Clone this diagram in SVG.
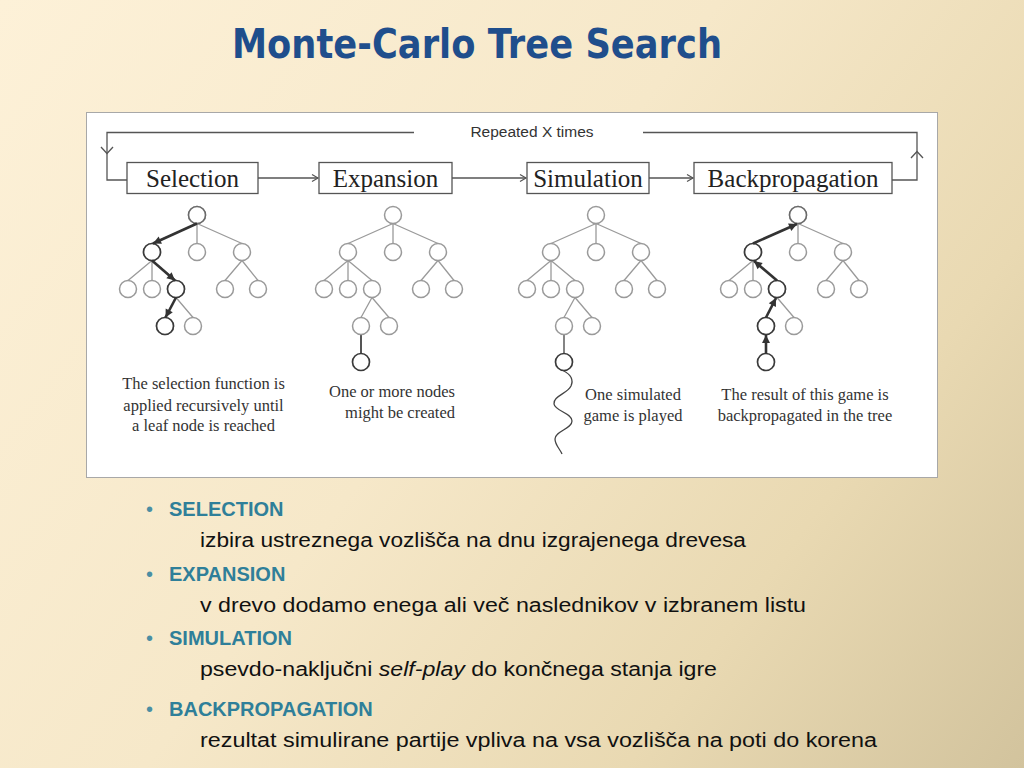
<svg xmlns="http://www.w3.org/2000/svg" width="1024" height="768" viewBox="0 0 1024 768">
<defs>
<linearGradient id="bg" gradientUnits="userSpaceOnUse" x1="0" y1="0" x2="1024" y2="768">
<stop offset="0" stop-color="#fdf1d8"/>
<stop offset="0.45" stop-color="#f6e8c9"/>
<stop offset="0.75" stop-color="#e9d9b2"/>
<stop offset="1" stop-color="#d2c39d"/>
</linearGradient>
<marker id="open" markerUnits="userSpaceOnUse" markerWidth="10" markerHeight="10" refX="6" refY="3.5" orient="auto" overflow="visible">
<path d="M0,0 L6,3.5 L0,7" fill="none" stroke="#555" stroke-width="1.2"/>
</marker>
<marker id="bold" markerUnits="userSpaceOnUse" markerWidth="10" markerHeight="10" refX="8" refY="4" orient="auto" overflow="visible">
<path d="M0,0 L8,4 L0,8 z" fill="#333"/>
</marker>
<style>
.title{font-family:"DejaVu Sans","Liberation Sans",sans-serif;font-weight:bold;font-size:40px;fill:#1f4e8c;text-anchor:middle}
.frame{fill:#fff;stroke:#a8a8a8;stroke-width:1}
.conn{fill:none;stroke:#555;stroke-width:1.3}
.box{fill:#fff;stroke:#555;stroke-width:1.3}
.boxt{font-family:"Liberation Serif","Times New Roman",serif;font-size:25px;fill:#222;text-anchor:middle}
.rep{font-family:"Liberation Sans",Arial,sans-serif;font-size:15.5px;fill:#333;text-anchor:middle}
.edge{stroke:#9a9a9a;stroke-width:1.3;fill:none}
.bedge{stroke:#333;stroke-width:2.6;fill:none}
.n{fill:#fff;stroke:#9a9a9a;stroke-width:1.5}
.nd{fill:#fff;stroke:#3a3a3a;stroke-width:1.7}
.nm{fill:#fff;stroke:#6a6a6a;stroke-width:1.6}
.cap{font-family:"Liberation Serif","Times New Roman",serif;font-size:16.5px;fill:#333}
.hd{font-family:"Liberation Sans",Arial,sans-serif;font-size:20px;font-weight:bold;fill:#2f7f99}
.bl{font-family:"Liberation Sans",Arial,sans-serif;font-size:20px;fill:#4a8ea3}
.tx{font-family:"Liberation Sans",Arial,sans-serif;font-size:20px;fill:#111}
</style>
<g id="baseEdges">
<path class="edge" d="M0,223.5 L-45,243.5 M0,223.5 L0,243.5 M0,223.5 L45,243.5 M-45,260.5 L-69,280.5 M-45,260.5 L-45,280.5 M-45,260.5 L-21,280.5 M45,260.5 L28,280.5 M45,260.5 L61,280.5 M-21,297.5 L-32,317.5 M-21,297.5 L-4,317.5"/>
</g>
<g id="baseNodes">
<circle class="n" cx="0" cy="215" r="8.5"/>
<circle class="n" cx="-45" cy="252" r="8.5"/>
<circle class="n" cx="0" cy="252" r="8.5"/>
<circle class="n" cx="45" cy="252" r="8.5"/>
<circle class="n" cx="-69" cy="289" r="8.5"/>
<circle class="n" cx="-45" cy="289" r="8.5"/>
<circle class="n" cx="-21" cy="289" r="8.5"/>
<circle class="n" cx="28" cy="289" r="8.5"/>
<circle class="n" cx="61" cy="289" r="8.5"/>
<circle class="n" cx="-32" cy="326" r="8.5"/>
<circle class="n" cx="-4" cy="326" r="8.5"/>
</g>
</defs>
<rect width="1024" height="768" fill="url(#bg)"/>
<text class="title" x="477" y="58" textLength="490" lengthAdjust="spacingAndGlyphs">Monte-Carlo Tree Search</text>
<rect class="frame" x="86.5" y="112.5" width="851" height="365"/>
<g id="connectors">
<path class="conn" d="M414,132.5 H107 V180 H127"/>
<path class="conn" d="M101,147 L107,153.5 L113,147"/>
<path class="conn" d="M643,132.5 H917 V180 H892"/>
<path class="conn" d="M911,158 L917,151.5 L923,158"/>
<line class="conn" x1="258" y1="178" x2="318" y2="178" marker-end="url(#open)"/>
<line class="conn" x1="452" y1="178" x2="526" y2="178" marker-end="url(#open)"/>
<line class="conn" x1="649" y1="178" x2="693" y2="178" marker-end="url(#open)"/>
</g>
<text class="rep" x="532" y="137">Repeated X times</text>
<g id="selection">
<rect class="box" x="127" y="162.5" width="131" height="31"/>
<text class="boxt" x="192.5" y="187">Selection</text>
</g>
<g id="expansion">
<rect class="box" x="319" y="162.5" width="133" height="31"/>
<text class="boxt" x="385.5" y="187">Expansion</text>
</g>
<g id="simulation">
<rect class="box" x="527" y="162.5" width="122" height="31"/>
<text class="boxt" x="588" y="187">Simulation</text>
</g>
<g id="backpropagation">
<rect class="box" x="694" y="162.5" width="198" height="31"/>
<text class="boxt" x="793" y="187">Backpropagation</text>
</g>
<g id="tree-selection" transform="translate(197,0)">
<use href="#baseEdges"/>
<use href="#baseNodes"/>
<circle class="nm" cx="0" cy="215" r="8.5"/>
<circle class="nd" cx="-45" cy="252" r="8.5"/>
<circle class="nd" cx="-21" cy="289" r="8.5"/>
<circle class="nd" cx="-32" cy="326" r="8.5"/>
<line class="bedge" x1="0" y1="223.5" x2="-44" y2="243.5" marker-end="url(#bold)"/>
<line class="bedge" x1="-45" y1="260.5" x2="-22" y2="280.5" marker-end="url(#bold)"/>
<line class="bedge" x1="-21" y1="297.5" x2="-31.5" y2="317.5" marker-end="url(#bold)"/>
</g>
<g id="tree-expansion" transform="translate(393,0)">
<use href="#baseEdges"/>
<line x1="-32" y1="334.5" x2="-32" y2="353.5" stroke="#555" stroke-width="2"/>
<use href="#baseNodes"/>
<circle class="nd" cx="-32" cy="362" r="8.5"/>
</g>
<g id="tree-simulation" transform="translate(596,0)">
<use href="#baseEdges"/>
<line x1="-32" y1="334.5" x2="-32" y2="353.5" stroke="#666" stroke-width="1.6"/>
<use href="#baseNodes"/>
<circle class="nd" cx="-32" cy="362" r="8.5"/>
<path d="M-33,370.5 C-26,374 -22,379 -25,386 C-29,394 -43,396 -42,404 C-41,411 -24,413 -24,421 C-24,429 -41,431 -41,439 C-41,445 -36,449 -34,454" fill="none" stroke="#444" stroke-width="1.3"/>
</g>
<g id="tree-backpropagation" transform="translate(798,0)">
<use href="#baseEdges"/>
<use href="#baseNodes"/>
<circle class="nm" cx="0" cy="215" r="8.5"/>
<circle class="nd" cx="-45" cy="252" r="8.5"/>
<circle class="nd" cx="-21" cy="289" r="8.5"/>
<circle class="nd" cx="-32" cy="326" r="8.5"/>
<circle class="nd" cx="-32" cy="362" r="8.5"/>
<line class="bedge" x1="-32" y1="353.5" x2="-32" y2="335" marker-end="url(#bold)"/>
<line class="bedge" x1="-32" y1="317.5" x2="-22" y2="298" marker-end="url(#bold)"/>
<line class="bedge" x1="-21" y1="280.5" x2="-44" y2="261" marker-end="url(#bold)"/>
<line class="bedge" x1="-45" y1="243.5" x2="-1" y2="224" marker-end="url(#bold)"/>
</g>
<g id="captions">
<text class="cap" text-anchor="middle" x="203.5" y="389">The selection function is</text>
<text class="cap" text-anchor="middle" x="203.5" y="411">applied recursively until</text>
<text class="cap" text-anchor="middle" x="203.5" y="431">a leaf node is reached</text>
<text class="cap" text-anchor="end" x="455" y="397">One or more nodes</text>
<text class="cap" text-anchor="end" x="455" y="418">might be created</text>
<text class="cap" text-anchor="middle" x="633" y="400">One simulated</text>
<text class="cap" text-anchor="middle" x="633" y="421">game is played</text>
<text class="cap" text-anchor="middle" x="805" y="400">The result of this game is</text>
<text class="cap" text-anchor="middle" x="805" y="421">backpropagated in the tree</text>
</g>
<g id="bullets">
<text class="bl" x="146" y="516">•</text>
<text class="hd" x="169" y="516">SELECTION</text>
<text class="tx" x="200" y="547" textLength="546" lengthAdjust="spacingAndGlyphs">izbira ustreznega vozlišča na dnu izgrajenega drevesa</text>
<text class="bl" x="146" y="581">•</text>
<text class="hd" x="169" y="581">EXPANSION</text>
<text class="tx" x="200" y="612" textLength="606" lengthAdjust="spacingAndGlyphs">v drevo dodamo enega ali več naslednikov v izbranem listu</text>
<text class="bl" x="146" y="645">•</text>
<text class="hd" x="169" y="645">SIMULATION</text>
<text class="tx" x="200" y="676" textLength="517" lengthAdjust="spacingAndGlyphs">psevdo-naključni <tspan font-style="italic">self-play</tspan> do končnega stanja igre</text>
<text class="bl" x="146" y="716">•</text>
<text class="hd" x="169" y="716">BACKPROPAGATION</text>
<text class="tx" x="200" y="747" textLength="677" lengthAdjust="spacingAndGlyphs">rezultat simulirane partije vpliva na vsa vozlišča na poti do korena</text>
</g>
</svg>
